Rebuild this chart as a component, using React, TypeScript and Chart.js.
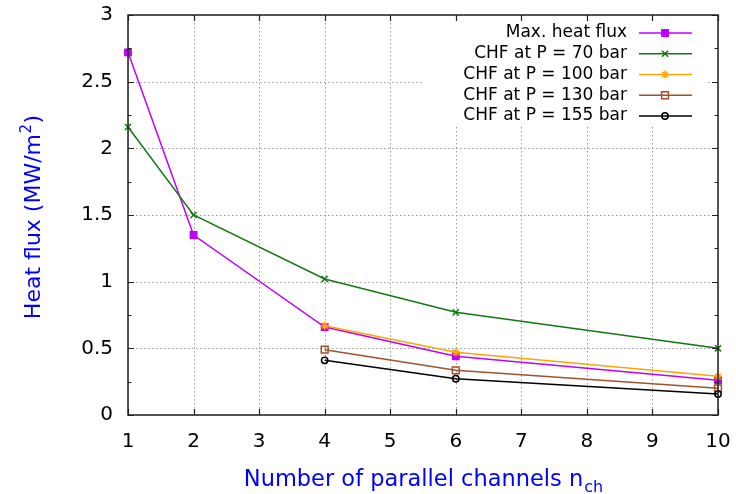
import React, { useEffect, useRef } from 'react';
import { Chart, registerables } from 'chart.js';
import { drawPoint } from 'chart.js/helpers';

Chart.register(...registerables);

const FONT = "'DejaVu Sans', sans-serif";

// ---- data ----
const channels = [1, 2, 4, 6, 10];
const chfChannels = [4, 6, 10];
const maxHeatFlux = [2.72, 1.35, 0.66, 0.44, 0.26];
const chf70 = [2.16, 1.5, 1.02, 0.77, 0.5];
const chf100 = [0.67, 0.47, 0.29];
const chf130 = [0.49, 0.335, 0.2];
const chf155 = [0.41, 0.272, 0.157];

const seriesLabels = [
  'Max. heat flux',
  'CHF at P = 70 bar',
  'CHF at P = 100 bar',
  'CHF at P = 130 bar',
  'CHF at P = 155 bar',
];

const xTickValues = [1, 2, 3, 4, 5, 6, 7, 8, 9, 10];
const yTickValues = [0, 0.5, 1, 1.5, 2, 2.5, 3];
const yMinorTickValues = [0.25, 0.75, 1.25, 1.75, 2.25, 2.75];

const xTitle = 'Number of parallel channels n';
const xTitleSub = 'ch';
const yTitle = 'Heat flux (MW/m';
const yTitleSup = '2';
const yTitleEnd = ')';

// ---- styles ----
const seriesStyles = [
  { color: '#c000ff', pointStyle: 'rect', radius: 4.5, filled: true },
  { color: '#137813', pointStyle: 'crossRot', radius: 4.3, filled: false },
  { color: '#ffa500', pointStyle: 'star', radius: 4, filled: false },
  { color: '#a0522d', pointStyle: 'rect', radius: 4.8, filled: false },
  { color: '#000000', pointStyle: 'circle', radius: 3.2, filled: false },
];

const seriesData = [
  { xs: channels, ys: maxHeatFlux },
  { xs: channels, ys: chf70 },
  { xs: chfChannels, ys: chf100 },
  { xs: chfChannels, ys: chf130 },
  { xs: chfChannels, ys: chf155 },
];

const zeroPad = (s: any) => {
  s.paddingTop = 0;
  s.paddingBottom = 0;
  s.paddingLeft = 0;
  s.paddingRight = 0;
};

const framePlugin = {
  id: 'gnuFrame',
  beforeDatasetsDraw(chart: any) {
    const { ctx, chartArea: a, scales } = chart;
    const x = scales.x;
    const y = scales.y;
    ctx.save();
    ctx.strokeStyle = '#9a9a9a';
    ctx.lineWidth = 1;
    ctx.setLineDash([1.5, 2.5]);
    ctx.beginPath();
    for (const v of xTickValues) {
      const px = Math.round(x.getPixelForValue(v)) + 0.5;
      ctx.moveTo(px, a.top);
      ctx.lineTo(px, a.bottom);
    }
    for (const v of yTickValues) {
      const py = Math.round(y.getPixelForValue(v)) + 0.5;
      ctx.moveTo(a.left, py);
      ctx.lineTo(a.right, py);
    }
    ctx.stroke();
    ctx.setLineDash([]);
    // opaque key box
    ctx.fillStyle = '#ffffff';
    ctx.fillRect(a.right - 296, a.top + 5, 283, 107);
    ctx.restore();
  },
  afterDatasetsDraw(chart: any) {
    const { ctx, chartArea: a, scales } = chart;
    const x = scales.x;
    const y = scales.y;
    ctx.save();
    // ticks
    ctx.strokeStyle = '#222';
    ctx.lineWidth = 1.2;
    ctx.beginPath();
    const major = 6;
    const minor = 3.5;
    for (const v of xTickValues) {
      const px = Math.round(x.getPixelForValue(v)) + 0.5;
      ctx.moveTo(px, a.bottom);
      ctx.lineTo(px, a.bottom - major);
      ctx.moveTo(px, a.top);
      ctx.lineTo(px, a.top + major);
    }
    for (const v of yTickValues) {
      const py = Math.round(y.getPixelForValue(v)) + 0.5;
      ctx.moveTo(a.left, py);
      ctx.lineTo(a.left + major, py);
      ctx.moveTo(a.right, py);
      ctx.lineTo(a.right - major, py);
    }
    for (const v of yMinorTickValues) {
      const py = Math.round(y.getPixelForValue(v)) + 0.5;
      ctx.moveTo(a.left, py);
      ctx.lineTo(a.left + minor, py);
      ctx.moveTo(a.right, py);
      ctx.lineTo(a.right - minor, py);
    }
    ctx.stroke();
    // border
    ctx.lineWidth = 1.5;
    ctx.strokeStyle = '#222';
    ctx.strokeRect(a.left, a.top, a.right - a.left, a.bottom - a.top);

    // key entries
    ctx.font = `17px ${FONT}`;
    ctx.textAlign = 'right';
    ctx.textBaseline = 'middle';
    seriesLabels.forEach((label, i) => {
      const st = seriesStyles[i];
      const ry = a.top + 18 + i * 20.75;
      ctx.fillStyle = '#000';
      ctx.fillText(label, a.right - 91, ry);
      ctx.strokeStyle = st.color;
      ctx.lineWidth = 1.5;
      ctx.beginPath();
      ctx.moveTo(a.right - 79, ry);
      ctx.lineTo(a.right - 26, ry);
      ctx.stroke();
      ctx.fillStyle = st.filled ? st.color : 'rgba(0,0,0,0)';
      drawPoint(ctx, { pointStyle: st.pointStyle, rotation: 0, radius: st.radius, borderWidth: 1.5 } as any, a.right - 53, ry);
    });
    ctx.restore();
  },
  afterDraw(chart: any) {
    const { ctx, chartArea: a } = chart;
    ctx.save();
    ctx.fillStyle = '#0000ff';
    ctx.textBaseline = 'alphabetic';
    ctx.textAlign = 'left';
    // x title with subscript
    const mainFont = `22.5px ${FONT}`;
    const subFont = `16px ${FONT}`;
    ctx.font = mainFont;
    const w1 = ctx.measureText(xTitle).width;
    ctx.font = subFont;
    const w2 = ctx.measureText(xTitleSub).width;
    const cx = (a.left + a.right) / 2;
    const sx = cx - (w1 + w2) / 2;
    ctx.font = mainFont;
    ctx.fillText(xTitle, sx, 486);
    ctx.font = subFont;
    ctx.fillText(xTitleSub, sx + w1 + 1, 492);

    // y title with superscript, rotated
    ctx.translate(40, 217);
    ctx.rotate(-Math.PI / 2);
    const yMain = `22px ${FONT}`;
    const ySup = `15px ${FONT}`;
    ctx.font = yMain;
    const t1 = ctx.measureText(yTitle).width;
    const t3 = ctx.measureText(yTitleEnd).width;
    ctx.font = ySup;
    const t2 = ctx.measureText(yTitleSup).width;
    const total = t1 + t2 + t3 + 1;
    let tx = -total / 2;
    ctx.font = yMain;
    ctx.fillText(yTitle, tx, 0);
    tx += t1 + 0.5;
    ctx.font = ySup;
    ctx.fillText(yTitleSup, tx, -9);
    tx += t2 + 0.5;
    ctx.font = yMain;
    ctx.fillText(yTitleEnd, tx, 0);
    ctx.restore();
  },
};

export default function App() {
  const canvasRef = useRef<HTMLCanvasElement | null>(null);

  useEffect(() => {
    const canvas = canvasRef.current;
    if (!canvas) return;
    const datasets = seriesData.map((s, i) => {
      const st = seriesStyles[i];
      return {
        label: seriesLabels[i],
        data: s.xs.map((xv, j) => ({ x: xv, y: s.ys[j] })),
        borderColor: st.color,
        backgroundColor: st.color,
        borderWidth: 1.5,
        pointStyle: st.pointStyle,
        pointRadius: st.radius,
        pointBorderWidth: 1.5,
        pointBorderColor: st.color,
        pointBackgroundColor: st.filled ? st.color : 'rgba(0,0,0,0)',
        tension: 0,
        fill: false,
        clip: false,
        order: -i,
      };
    });

    const chart = new Chart(canvas, {
      type: 'line',
      data: { datasets } as any,
      options: {
        animation: false,
        responsive: false,
        devicePixelRatio: 1,
        layout: { padding: { top: 15, right: 18, left: 0, bottom: 0 } },
        plugins: { legend: { display: false }, tooltip: { enabled: false } },
        events: [],
        scales: {
          x: {
            type: 'linear',
            min: 1,
            max: 10,
            grid: { display: false, drawTicks: false, tickLength: 0 },
            border: { display: false },
            afterFit: (s: any) => {
              s.height = 79;
              zeroPad(s);
            },
            afterBuildTicks: (s: any) => {
              s.ticks = xTickValues.map((v) => ({ value: v }));
            },
            ticks: {
              autoSkip: false,
              maxRotation: 0,
              padding: 15,
              color: '#000',
              font: { family: FONT, size: 20 },
            },
          },
          y: {
            type: 'linear',
            min: 0,
            max: 3,
            grid: { display: false, drawTicks: false, tickLength: 0 },
            border: { display: false },
            afterFit: (s: any) => {
              s.width = 128;
              zeroPad(s);
            },
            afterBuildTicks: (s: any) => {
              s.ticks = yTickValues.map((v) => ({ value: v }));
            },
            ticks: {
              autoSkip: false,
              padding: 15,
              color: '#000',
              font: { family: FONT, size: 20 },
              callback: (v: any) => String(v),
            },
          },
        },
      } as any,
      plugins: [framePlugin],
    });
    return () => chart.destroy();
  }, []);

  return (
    <div style={{ position: 'fixed', left: 0, top: 0, width: 736, height: 494, background: '#fff' }}>
      <canvas ref={canvasRef} width={736} height={494} style={{ display: 'block', width: 736, height: 494 }} />
    </div>
  );
}
